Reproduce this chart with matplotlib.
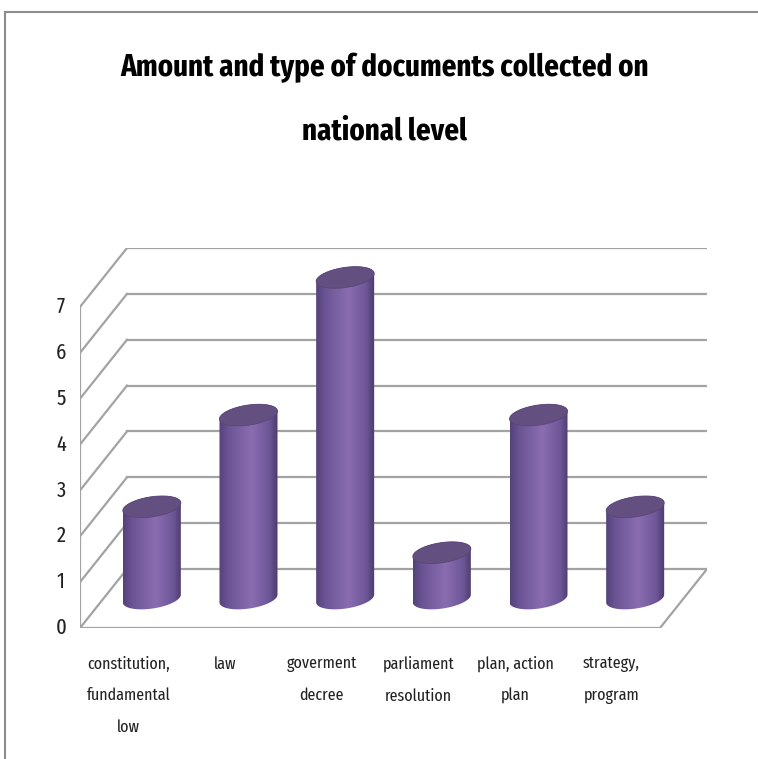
import os
import matplotlib
matplotlib.use("Agg")
import matplotlib.pyplot as plt
import numpy as np
from matplotlib import font_manager
from matplotlib.font_manager import FontProperties
from matplotlib.patches import Polygon
from matplotlib.lines import Line2D
from matplotlib.colors import LinearSegmentedColormap
from matplotlib.transforms import blended_transform_factory

categories = ["constitution,\nfundamental\nlow", "law", "goverment\ndecree",
              "parliament\nresolution", "plan, action\nplan", "strategy,\nprogram"]
values = [2, 4, 7, 1, 4, 2]
yticks = [0, 1, 2, 3, 4, 5, 6, 7]
title = "Amount and type of documents collected on\nnational level"


def font_file(names):
    files = {os.path.basename(f.fname): f.fname for f in font_manager.fontManager.ttflist}
    for n in names:
        if n in files:
            return FontProperties(fname=files[n])
    return FontProperties(family="DejaVu Sans")


reg = font_file(["FiraSansExtraCondensed-Regular.ttf", "BarlowCondensed-Regular.ttf", "Carlito-Regular.ttf"])
bold = font_file(["FiraSansExtraCondensed-Bold.ttf", "BarlowCondensed-Bold.ttf", "Carlito-Bold.ttf"])

# depth of the fake 3d box, in data units (categories / values)
DX, DY = 0.486, 1.285
grid_c = "#a3a3a3"

fig = plt.figure(figsize=(7.58, 7.59), dpi=100)
renderer = fig.canvas.get_renderer()


def fit_size(text, prop, target_px):
    p = prop.copy()
    p.set_size(10)
    w, h, d = renderer.get_text_width_height_descent(text, p, ismath=False)
    return 10 * target_px / w


def line_spacing(prop, size, gap_px):
    p = prop.copy()
    p.set_size(size)
    w, h, d = renderer.get_text_width_height_descent("lp", p, ismath=False)
    # measured: matplotlib's baseline step comes out ~11% larger than this
    return 0.9 * gap_px / (h - d)


ax = fig.add_axes([80 / 758, 1 - 628 / 759, 627 / 758, 380 / 759])
n = len(categories)
ymax = yticks[-1]

# left wall + back wall gridlines
ax.plot([-0.5, -0.5], [0, ymax], color=grid_c, lw=1.6, zorder=1)
for k in yticks:
    ax.plot([-0.5, -0.5 + DX], [k, k + DY], color=grid_c, lw=1.6, zorder=1)
    ax.plot([-0.5 + DX, n - 0.5 + DX], [k + DY, k + DY], color=grid_c, lw=1.6, zorder=1)
# floor
ax.plot([-0.5, n - 0.5, n - 0.5 + DX], [0, 0, DY], color=grid_c, lw=1.6, zorder=1)

cmap = LinearSegmentedColormap.from_list(
    "cyl", [(0, "#55427a"), (0.15, "#6a5494"), (0.55, "#8a6db1"),
            (0.85, "#6e5798"), (1, "#4c3b6c")])
grad = np.linspace(0, 1, 200).reshape(1, -1)

w, b, k_tilt = 0.3, 0.22, 0.085
t_low = np.linspace(np.pi, 2 * np.pi, 60)
t_all = np.linspace(0, 2 * np.pi, 120)
for i, v in enumerate(values):
    xc = i + DX / 2
    yb = DY / 2
    yt = v + DY / 2
    bx = xc + w * np.cos(t_low)
    by = yb + b * np.sin(t_low) + k_tilt * np.cos(t_low)
    tx = xc + w * np.cos(t_low[::-1])
    ty = yt - b * np.sin(t_low[::-1]) + k_tilt * np.cos(t_low[::-1])
    body = Polygon(np.column_stack([np.r_[bx, tx], np.r_[by, ty]]),
                   closed=True, facecolor="none", edgecolor="none")
    ax.add_patch(body)
    im = ax.imshow(grad, cmap=cmap, aspect="auto", zorder=3,
                   extent=[xc - w, xc + w, yb - b - 0.2, yt + b + 0.2])
    im.set_clip_path(body)
    ex = xc + w * np.cos(t_all)
    ey = yt + b * np.sin(t_all) + k_tilt * np.cos(t_all)
    ax.add_patch(Polygon(np.column_stack([ex, ey]), closed=True,
                         facecolor="#644f81", edgecolor="#5a4775", lw=0.6, zorder=4))

ax.set_xlim(-0.5, n - 0.5 + DX)
ax.set_ylim(0, ymax + DY)
ax.axis("off")

# value labels on the front left edge
tick_prop = reg.copy()
tick_prop.set_size(16)
for k in yticks:
    ax.text(-0.5 - 19 / 96.7, k, str(k), fontproperties=tick_prop, color="#222222",
            ha="center", va="center")

# category labels below the floor
lab_size = fit_size("constitution,", reg, 84)
lab_prop = reg.copy()
lab_prop.set_size(lab_size)
trans = blended_transform_factory(ax.transData, ax.transAxes)
ls = line_spacing(reg, lab_size, 31.5)
for i, c in enumerate(categories):
    ax.text(i, -28 / 380, c, transform=trans, fontproperties=lab_prop, color="#222222",
            ha="center", va="top", linespacing=ls)

# title (multi-line baseline alignment uses the last line)
t_size = fit_size(title.split("\n")[0], bold, 530)
t_prop = bold.copy()
t_prop.set_size(t_size)
fig.text(385 / 758, 1 - 140 / 759, title, fontproperties=t_prop, ha="center",
         va="baseline", linespacing=line_spacing(bold, t_size, 63), color="black")

# outer frame (top and left only visible)
fig.add_artist(Line2D([5 / 758, 1], [1 - 11.5 / 759, 1 - 11.5 / 759],
                      transform=fig.transFigure, color="#8c8c8c", lw=1.5))
fig.add_artist(Line2D([5 / 758, 5 / 758], [0, 1 - 11.5 / 759],
                      transform=fig.transFigure, color="#8c8c8c", lw=1.5))

fig.savefig("out.png", dpi=100)
